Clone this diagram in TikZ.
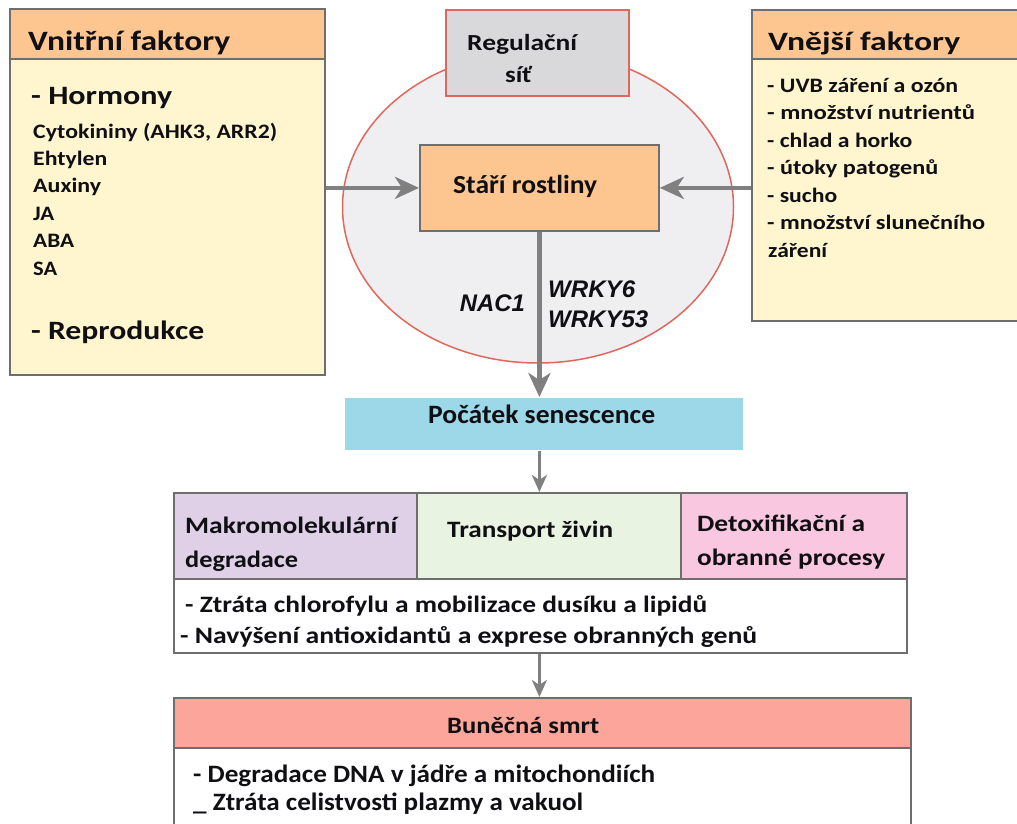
\documentclass[tikz,border=0pt]{standalone}
\usepackage{fontspec}
\setmainfont{Carlito}
\newfontfamily\arialf{Liberation Sans}
\usetikzlibrary{arrows.meta,shapes.geometric}
\newcommand\fitw[2]{\resizebox{#1pt}{\height}{#2}}
\definecolor{hdrorange}{HTML}{FDC590}
\definecolor{bodyyellow}{HTML}{FFF5CF}
\definecolor{netgray}{HTML}{EFEFF1}
\definecolor{netred}{HTML}{E0675C}
\definecolor{reggray}{HTML}{D9D9DC}
\definecolor{bordergray}{HTML}{6E6E6E}
\definecolor{arrgray}{HTML}{808080}
\definecolor{cyanbox}{HTML}{9DD8E8}
\definecolor{purplecell}{HTML}{DFCFE7}
\definecolor{greencell}{HTML}{E9F3E1}
\definecolor{pinkcell}{HTML}{F9C7DF}
\definecolor{salmon}{HTML}{FCA59B}
\definecolor{txt}{HTML}{101014}
\tikzset{
  boxbase/.style={rectangle, draw=bordergray, line width=1.8pt, inner sep=0pt, anchor=north west},
  lbl/.style={anchor=base west, inner sep=0pt, text=txt, font=\bfseries\fontsize{20.5}{24}\selectfont},
  hdr/.style={lbl, font=\bfseries\fontsize{28}{32}\selectfont},
  big/.style={lbl, font=\bfseries\fontsize{26.5}{30}\selectfont},
  mid/.style={lbl, font=\bfseries\fontsize{23.5}{28}\selectfont},
  gene/.style={inner sep=0pt, text=txt, font=\arialf\bfseries\itshape\fontsize{24}{28}\selectfont},
  bigarr/.style={draw=arrgray, line width=4.5pt, -{Stealth[length=24pt, width=22pt, inset=7pt]}},
  smallarr/.style={draw=arrgray, line width=3pt, -{Stealth[length=17pt, width=15pt, inset=5pt]}},
}
\begin{document}
\begin{tikzpicture}[x=1pt,y=-1pt]
\useasboundingbox[fill=white] (0,0) rectangle (1017,823);

% regulatory network ellipse
\node[ellipse, draw=netred, fill=netgray, line width=1.5pt, minimum width=391pt, minimum height=312pt] (net) at (538,207) {};
\node[boxbase, draw=netred, fill=reggray, line width=1.5pt, minimum width=183pt, minimum height=86pt] (reg) at (445,9) {};
\node[mid, font=\bfseries\fontsize{23}{28}\selectfont] (regt1) at (467,50) {\fitw{110}{Regulační}};
\node[mid, font=\bfseries\fontsize{23}{28}\selectfont] (regt2) at (505,82) {\fitw{27}{síť}};
\node[boxbase, fill=hdrorange, minimum width=239pt, minimum height=86pt] (age) at (419,144) {};
\node[big, font=\bfseries\fontsize{26}{30}\selectfont] (aget) at (453,193) {\fitw{144}{Stáří rostliny}};

% left box
\node[boxbase, fill=bodyyellow, minimum width=315pt, minimum height=366pt] (lbox) at (9,8) {};
\node[boxbase, fill=hdrorange, minimum width=315pt, minimum height=50pt] (lhdr) at (9,8) {};
\node[hdr] (lhdrt) at (28,50) {\fitw{202}{Vnitřní faktory}};
\node[big] (horm) at (31,104) {\fitw{141}{- Hormony}};
\node[lbl] (hl1) at (33,138) {\fitw{244}{Cytokininy (AHK3, ARR2)}};
\node[lbl] (hl2) at (33,165) {\fitw{74}{Ehtylen}};
\node[lbl] (hl3) at (33,192) {\fitw{68}{Auxiny}};
\node[lbl] (hl4) at (33,220) {\fitw{21}{JA}};
\node[lbl] (hl5) at (33,247) {\fitw{41}{ABA}};
\node[lbl] (hl6) at (33,275) {\fitw{24}{SA}};
\node[big] (repro) at (31,339) {\fitw{173}{- Reprodukce}};

% right box
\node[boxbase, fill=bodyyellow, minimum width=280pt, minimum height=311pt] (rbox) at (751,9) {};
\node[boxbase, fill=hdrorange, minimum width=280pt, minimum height=49pt] (rhdr) at (751,9) {};
\node[hdr, font=\bfseries\fontsize{26.5}{30}\selectfont] (rhdrt) at (768,50) {\fitw{192}{Vnější faktory}};
\node[lbl] (el1) at (767,92) {\fitw{191}{- UVB záření a ozón}};
\node[lbl] (el2) at (767,119.5) {\fitw{208}{- množství nutrientů}};
\node[lbl] (el3) at (767,147) {\fitw{145}{- chlad a horko}};
\node[lbl] (el4) at (767,174.5) {\fitw{171}{- útoky patogenů}};
\node[lbl] (el5) at (767,202) {\fitw{70}{- sucho}};
\node[lbl] (el6) at (767,229.5) {\fitw{218}{- množství slunečního}};
\node[lbl] (el7) at (768,257) {\fitw{59}{záření}};

% arrows into plant age
\draw[bigarr] (lbox.east |- age.west) -- (age.west);
\draw[bigarr] (rbox.west |- age.east) -- (age.east);

% onset of senescence
\node[boxbase, draw=none, fill=cyanbox, minimum width=398pt, minimum height=52pt] (onset) at (344,397) {};
\node[big] (onsett) at (428,423) {\fitw{227}{Počátek senescence}};
\draw[bigarr] (age.south) -- (age.south |- onset.north);
\node[gene, anchor=base east] (nac) at (525,311) {\fitw{65}{NAC1}};
\node[gene, anchor=base west] (wr6) at (548,297) {\fitw{87}{WRKY6}};
\node[gene, anchor=base west] (wr53) at (548,327) {\fitw{100}{WRKY53}};

% processes
\node[boxbase, fill=white, minimum width=733pt, minimum height=160pt] (proc) at (173,492) {};
\node[boxbase, fill=purplecell, minimum width=243pt, minimum height=86pt] (c1) at (173,492) {};
\node[boxbase, fill=greencell, minimum width=264pt, minimum height=86pt] (c2) at (416,492) {};
\node[boxbase, fill=pinkcell, minimum width=226pt, minimum height=86pt] (c3) at (680,492) {};
\node[mid] (c1a) at (185,533) {\fitw{212}{Makromolekulární}};
\node[mid] (c1b) at (185,567) {\fitw{113}{degradace}};
\node[mid] (c2a) at (447,537) {\fitw{166}{Transport živin}};
\node[mid] (c3a) at (697,531) {\fitw{168}{Detoxifikační a}};
\node[mid] (c3b) at (697,565) {\fitw{188}{obranné procesy}};
\node[mid] (p1) at (185,612) {\fitw{522}{- Ztráta chlorofylu a mobilizace dusíku a lipidů}};
\node[mid] (p2) at (180,643) {\fitw{577}{- Navýšení antioxidantů a exprese obranných genů}};
\draw[smallarr] (age.south |- onset.south) -- (age.south |- proc.north);

% cell death
\node[boxbase, fill=white, minimum width=737pt, minimum height=150pt] (death) at (173,697) {};
\node[boxbase, fill=salmon, minimum width=737pt, minimum height=50pt] (dhdr) at (173,697) {};
\node[mid] (dhdrt) at (447,733) {\fitw{152}{Buněčná smrt}};
\node[mid, font=\bfseries\fontsize{25}{28}\selectfont] (d1) at (193,782) {\fitw{462}{- Degradace DNA v jádře a mitochondiích}};
\node[mid, font=\bfseries\fontsize{25}{28}\selectfont] (d2) at (193,810) {\fitw{390}{\_ Ztráta celistvosti plazmy a vakuol}};
\draw[smallarr] (age.south |- proc.south) -- (age.south |- death.north);
\end{tikzpicture}
\end{document}
